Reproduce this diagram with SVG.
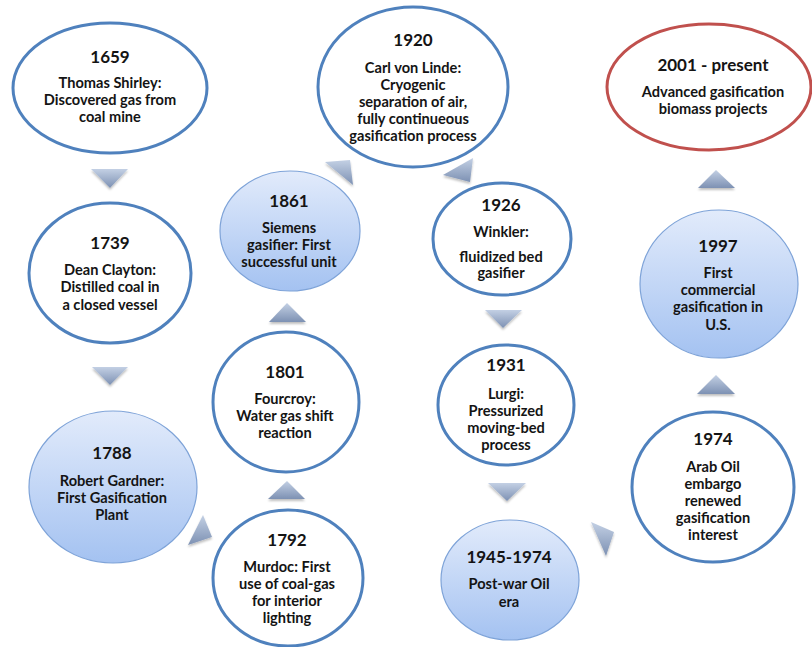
<svg xmlns="http://www.w3.org/2000/svg" width="812" height="647" viewBox="0 0 812 647">
<defs>
<linearGradient id="fillG" x1="0" y1="0" x2="0" y2="1">
<stop offset="0" stop-color="#e2ebfb"/>
<stop offset="1" stop-color="#a4c2f1"/>
</linearGradient>
<linearGradient id="triG" x1="0" y1="0" x2="0" y2="1">
<stop offset="0" stop-color="#c3d0e4"/>
<stop offset="1" stop-color="#7d91b3"/>
</linearGradient>
<filter id="sh" x="-30%" y="-30%" width="160%" height="160%">
<feGaussianBlur in="SourceAlpha" stdDeviation="1.2"/>
<feOffset dx="0" dy="2" result="b"/>
<feFlood flood-color="#000" flood-opacity="0.25"/>
<feComposite in2="b" operator="in"/>
<feMerge><feMergeNode/><feMergeNode in="SourceGraphic"/></feMerge>
</filter>
</defs>
<style>
.o{fill:#fff;stroke:#4f81bd;stroke-width:3}
.r{fill:#fff;stroke:#c0504d;stroke-width:3}
.g{fill:url(#fillG);stroke:#7ea3d8;stroke-width:1.2}
.t{fill:url(#triG);filter:url(#sh)}
text{font-family:Lato,"Open Sans","Liberation Sans",sans-serif;font-weight:bold;fill:#141414;text-anchor:middle}
.y{font-size:17px}
.b{font-size:14.6px}
</style>
<rect width="812" height="647" fill="#fff"/>
<g id="connectors">
<polygon class="t" points="91,169 128,169 110,188"/>
<polygon class="t" points="92,367 128,367 110,385"/>
<polygon class="t" points="188,545 203,515 212,537"/>
<polygon class="t" points="268,499 305,499 287,481"/>
<polygon class="t" points="269,322 306,322 287,303"/>
<polygon class="t" points="325,162 353,185 350,160"/>
<polygon class="t" points="443,175 473,158 470,182"/>
<polygon class="t" points="485,310 522,310 503,328"/>
<polygon class="t" points="488,483 526,483 507,501"/>
<polygon class="t" points="591,522 606,556 614,532"/>
<polygon class="t" points="697,394 735,394 716,375"/>
<polygon class="t" points="698,188 735,188 716,170"/>
</g>
<g id="n1659">
<ellipse class="o" cx="110" cy="88" rx="97" ry="65"/>
<text class="y" x="110" y="63">1659</text>
<text class="b" x="110" y="88">Thomas Shirley:</text>
<text class="b" x="110" y="105">Discovered gas from</text>
<text class="b" x="110" y="122">coal mine</text>
</g>
<g id="n1739">
<ellipse class="o" cx="110" cy="273" rx="81" ry="70"/>
<text class="y" x="110" y="249">1739</text>
<text class="b" x="110" y="275">Dean Clayton:</text>
<text class="b" x="110" y="292">Distilled coal in</text>
<text class="b" x="110" y="310">a closed vessel</text>
</g>
<g id="n1788">
<ellipse class="g" cx="113" cy="487" rx="84" ry="76"/>
<text class="y" x="112" y="459">1788</text>
<text class="b" x="112" y="486">Robert Gardner:</text>
<text class="b" x="112" y="503">First Gasification</text>
<text class="b" x="112" y="520">Plant</text>
</g>
<g id="n1792">
<ellipse class="o" cx="288" cy="578" rx="75" ry="68"/>
<text class="y" x="287" y="546">1792</text>
<text class="b" x="287" y="572">Murdoc: First</text>
<text class="b" x="287" y="589">use of coal-gas</text>
<text class="b" x="287" y="606">for interior</text>
<text class="b" x="287" y="623">lighting</text>
</g>
<g id="n1801">
<ellipse class="o" cx="286" cy="402" rx="73" ry="70"/>
<text class="y" x="285" y="378">1801</text>
<text class="b" x="285" y="404">Fourcroy:</text>
<text class="b" x="285" y="421">Water gas shift</text>
<text class="b" x="285" y="438">reaction</text>
</g>
<g id="n1861">
<ellipse class="g" cx="290" cy="231" rx="70" ry="60"/>
<text class="y" x="289" y="207">1861</text>
<text class="b" x="289" y="233">Siemens</text>
<text class="b" x="289" y="250">gasifier: First</text>
<text class="b" x="289" y="267">successful unit</text>
</g>
<g id="n1920">
<ellipse class="o" cx="413" cy="87" rx="95" ry="80"/>
<text class="y" x="413" y="46">1920</text>
<text class="b" x="413" y="73">Carl von Linde:</text>
<text class="b" x="413" y="90">Cryogenic</text>
<text class="b" x="413" y="107">separation of air,</text>
<text class="b" x="413" y="124">fully continueous</text>
<text class="b" x="413" y="141">gasification process</text>
</g>
<g id="n1926">
<ellipse class="o" cx="502" cy="239" rx="69" ry="56"/>
<text class="y" x="501" y="211">1926</text>
<text class="b" x="501" y="237">Winkler:</text>
<text class="b" x="501" y="262">fluidized bed</text>
<text class="b" x="501" y="278">gasifier</text>
</g>
<g id="n1931">
<ellipse class="o" cx="506" cy="405" rx="68" ry="60"/>
<text class="y" x="506" y="371">1931</text>
<text class="b" x="506" y="399">Lurgi:</text>
<text class="b" x="506" y="416">Pressurized</text>
<text class="b" x="506" y="433">moving-bed</text>
<text class="b" x="506" y="450">process</text>
</g>
<g id="n1945">
<ellipse class="g" cx="510" cy="580" rx="69" ry="60"/>
<text class="y" x="509" y="563">1945-1974</text>
<text class="b" x="509" y="589">Post-war Oil</text>
<text class="b" x="509" y="607">era</text>
</g>
<g id="n1974">
<ellipse class="o" cx="713" cy="487" rx="81" ry="75"/>
<text class="y" x="713" y="445">1974</text>
<text class="b" x="713" y="472">Arab Oil</text>
<text class="b" x="713" y="489">embargo</text>
<text class="b" x="713" y="506">renewed</text>
<text class="b" x="713" y="523">gasification</text>
<text class="b" x="713" y="540">interest</text>
</g>
<g id="n1997">
<ellipse class="g" cx="719" cy="284" rx="79" ry="74"/>
<text class="y" x="718" y="252">1997</text>
<text class="b" x="718" y="278">First</text>
<text class="b" x="718" y="295">commercial</text>
<text class="b" x="718" y="312">gasification in</text>
<text class="b" x="718" y="330">U.S.</text>
</g>
<g id="n2001">
<ellipse class="r" cx="709" cy="87" rx="102" ry="63"/>
<text class="y" x="713" y="71">2001 - present</text>
<text class="b" x="713" y="97">Advanced gasification</text>
<text class="b" x="713" y="114">biomass projects</text>
</g>
</svg>
